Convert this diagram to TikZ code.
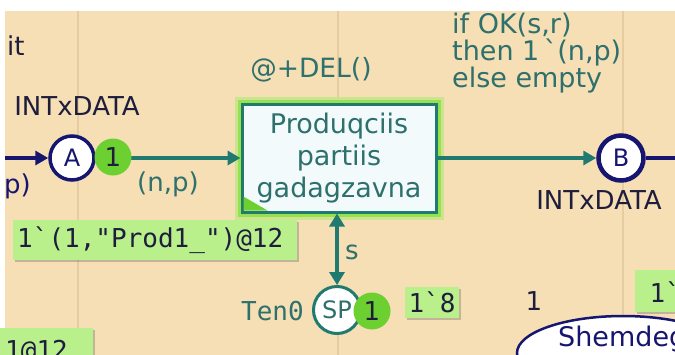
\documentclass[tikz,border=0pt]{standalone}
\usepackage{fontspec}
\setmainfont{DejaVu Sans}
\setmonofont{DejaVu Sans Mono}
\usetikzlibrary{arrows.meta,shapes.geometric,shadows}

\definecolor{sheet}{RGB}{246,222,181}
\definecolor{gridline}{RGB}{230,204,160}
\definecolor{arcteal}{RGB}{32,122,112}
\definecolor{txtteal}{RGB}{45,112,108}
\definecolor{navy}{RGB}{22,22,112}
\definecolor{ink}{RGB}{30,30,60}
\definecolor{tokgreen}{RGB}{108,208,48}
\definecolor{markgreen}{RGB}{186,240,140}
\definecolor{glowgreen}{RGB}{150,226,78}
\definecolor{glowsoft}{RGB}{204,228,146}
\definecolor{transfill}{RGB}{242,250,252}

\tikzset{
  lbl/.style={font=\fontsize{26}{28}\selectfont, inner sep=0pt},
  monolbl/.style={font=\ttfamily\fontsize{26}{28}\selectfont, inner sep=0pt},
  place/.style={circle, draw=navy, line width=3.5pt, fill=white, minimum size=44pt,
    inner sep=0pt, text=navy, font=\fontsize{24}{26}\selectfont},
  tplace/.style={place, draw=arcteal, line width=3pt, text=txtteal},
  token/.style={circle, fill=tokgreen, minimum size=37pt, inner sep=0pt,
    text=ink, font=\fontsize{26}{28}\selectfont},
  trans/.style={rectangle, draw=arcteal, line width=3pt, fill=transfill,
    minimum width=194pt, minimum height=108pt, align=center, text=txtteal,
    font=\fontsize{27}{32}\selectfont,
    preaction={draw=glowsoft, line width=15pt},
    preaction={draw=glowgreen, line width=9pt}},
  marking/.style={rectangle, fill=markgreen, inner xsep=4pt, inner ysep=3pt,
    font=\ttfamily\fontsize{26}{28}\selectfont, text=ink,
    drop shadow={shadow xshift=2pt, shadow yshift=-2pt, opacity=0.35, fill=black!60}},
  tealarc/.style={draw=arcteal, line width=3.5pt, -{Triangle[length=13pt,width=14pt]}},
  navyarc/.style={draw=navy, line width=4pt},
}

\begin{document}
\begin{tikzpicture}[x=1pt,y=-1pt]
\useasboundingbox (0,0) rectangle (675,354);
\clip (0,0) rectangle (675,354);

% sheet and page guides
\fill[white] (0,0) rectangle (675,354);
\fill[sheet] (5,11) rectangle (680,360);
\foreach \gx in {78,338,623}
  \draw[gridline, line width=2pt] (\gx,11) -- (\gx,360);

% places and transition
\node[place] (A) at (72,158) {A};
\node[place, line width=4.5pt, minimum size=45pt] (B) at (621,158) {B};
\node[tplace, minimum size=47pt] (SP) at (337,310) {SP};
\node[trans] (T) at (339,158) {Produqciis\\partiis\\gadagzavna};
\fill[tokgreen] ([shift={(3,-3)}]T.south west) -- ++(0,-14) -- ++(24,14) -- cycle;

% arcs
\coordinate (inA) at (5,158);
\coordinate (outB) at (680,158);
\draw[navyarc, -{Triangle[length=13pt,width=14pt]}] (inA) -- (A.west);
\draw[tealarc] (A.east) -- (T.west);
\draw[tealarc] (T.east) -- (B.west);
\draw[navyarc] (B.east) -- (outB);
\draw[draw=arcteal, line width=3.5pt, {Triangle[length=13pt,width=15pt]}-{Triangle[length=13pt,width=15pt]}]
  (SP.north |- T.south) -- (SP.north);

% tokens
\node[token] (tA) at (113,157) {1};
\node[token] (tSP) at (372,311) {1};

% inscriptions
\node[lbl, text=ink, anchor=west] (dom) at (7,46) {it};
\node[lbl, text=ink] (colA) at (77,106) {INTxDATA};
\node[lbl, text=ink] (colB) at (599,200) {INTxDATA};
\node[lbl, text=navy, anchor=east] (pin) at (31,186) {p)};
\node[lbl, text=txtteal] (np) at (168,184) {(n,p)};
\node[lbl, text=txtteal, font=\fontsize{26.5}{28}\selectfont] (del) at (311,70) {@+DEL()};
\node[lbl, text=txtteal, anchor=north west, align=left,
  font=\fontsize{27}{27}\selectfont] (cond) at (452,13)
  {if OK(s,r)\\then 1\,\textasciigrave(n,p)\\else empty};
\node[lbl, text=txtteal] (s) at (352,252) {s};
\node[monolbl, text=txtteal, anchor=east] (ten) at (304,311) {Ten0};
\node[lbl, text=ink] (one) at (534,301) {1};

% markings
\node[marking, anchor=west, minimum height=40pt, minimum width=284pt,
  text width=276pt, align=left] (mA) at (13,240) {1`(1,"Prod1\_")@12};
\node[marking, minimum height=31pt] (mSP) at (432,302) {1`8};
\node[marking, anchor=north west, minimum height=42pt, minimum width=60pt,
  text height=22pt, align=left] (mR) at (635,270) {1`};

% next transition, partly in view
\node[ellipse, draw=navy, line width=2.5pt, fill=white, minimum width=212pt,
  minimum height=74pt] (nx) at (623,353) {};
\node[lbl, text=navy, anchor=west, font=\fontsize{27}{28}\selectfont] (nxl) at (558,339) {Shemdeg};

\node[marking, anchor=north west, minimum width=94pt, minimum height=40pt,
  drop shadow={opacity=0}] (mL) at (-1,328) {};
\node[monolbl, text=ink, anchor=north west] (mLt) at (5,340) {1@12};
\end{tikzpicture}
\end{document}
